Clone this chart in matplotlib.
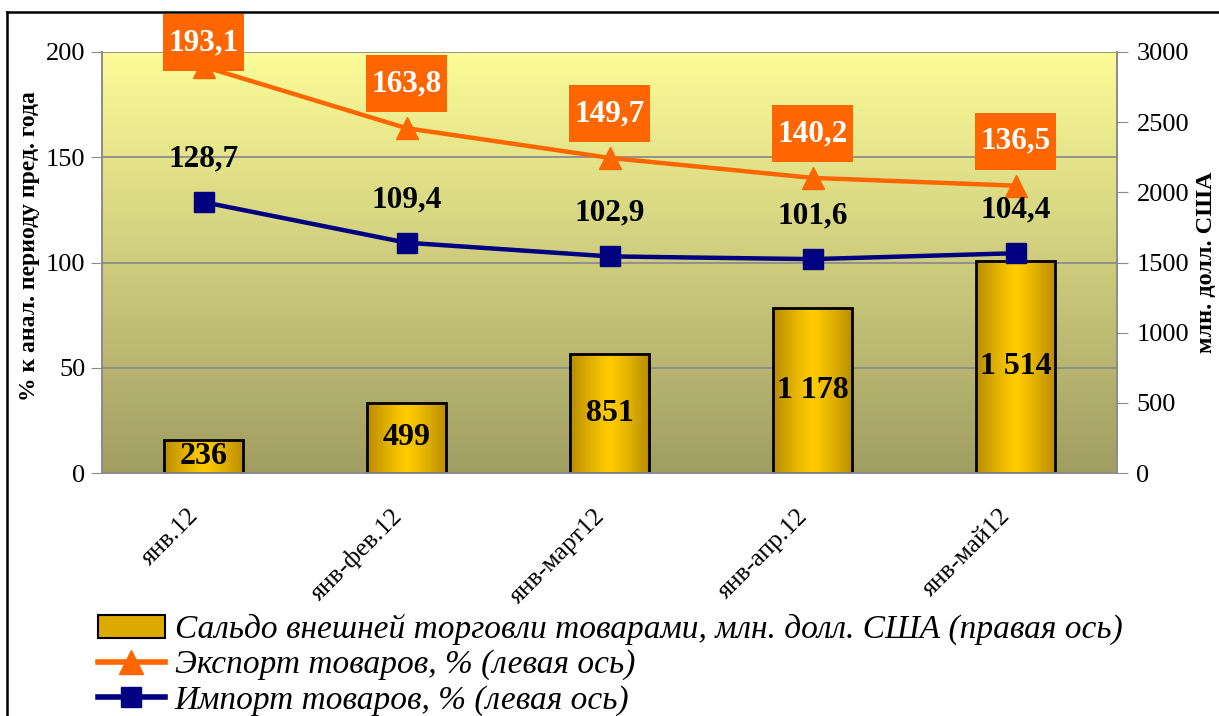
import matplotlib.pyplot as plt
import matplotlib.transforms as mtransforms
from matplotlib.lines import Line2D
from matplotlib.patches import Patch
from matplotlib.path import Path
import numpy as np

categories = ["янв.12", "янв-фев.12", "янв-март12", "янв-апр.12", "янв-май12"]
balance = [236, 499, 851, 1178, 1514]
balance_labels = ["236", "499", "851", "1 178", "1 514"]
export = [193.1, 163.8, 149.7, 140.2, 136.5]
imports = [128.7, 109.4, 102.9, 101.6, 104.4]

# label offsets above points (points); the first export label is pushed down to stay in the chart
export_offsets = [17, 32, 32, 32, 32]
import_offsets = [31, 31, 31, 31, 31]


def fmt(v):
    return f"{v:.1f}".replace(".", ",")


def label_box(x0, y0, width, height, mutation_size):
    # rectangle with small side padding and tall top/bottom padding
    px = 0.18 * mutation_size
    py = 0.45 * mutation_size
    verts = [(x0 - px, y0 - py), (x0 + width + px, y0 - py),
             (x0 + width + px, y0 + height + py), (x0 - px, y0 + height + py),
             (x0 - px, y0 - py)]
    return Path(verts, closed=True)


plt.rcParams['font.family'] = ['Liberation Serif', 'DejaVu Serif']

fig = plt.figure(figsize=(12.19, 7.16), dpi=100)
ax = fig.add_axes([102 / 1219, 1 - 473 / 716, 1015 / 1219, 421 / 716])
ax2 = ax.twinx()

x = np.arange(len(categories)) + 0.5
ax.set_xlim(0, len(categories))
ax.set_ylim(0, 3000)
ax2.set_ylim(0, 200)

# background gradient, light yellow at top to olive at bottom
grad = np.linspace(0, 1, 256).reshape(-1, 1)
top_c = np.array([252, 252, 152]) / 255
bot_c = np.array([160, 157, 98]) / 255
bg = (bot_c + (top_c - bot_c) * grad)[:, None, :].repeat(2, axis=1)
ax.imshow(bg, extent=[0, len(categories), 0, 3000], origin="lower",
          aspect="auto", zorder=0)

# gridlines belong to the left (percent) axis
for g in [50, 100, 150, 200]:
    ax.axhline(g * 15, color="#8c8c8c", lw=1.3, zorder=1)

# bars with a horizontal gold gradient
bw = 0.39
h = np.abs(np.linspace(-1, 1, 64))
edge_c = np.array([184, 140, 0]) / 255
mid_c = np.array([255, 204, 0]) / 255
bar_img = (mid_c + (edge_c - mid_c) * h[:, None] ** 1.2)[None, :, :]
for xi, v, lab in zip(x, balance, balance_labels):
    ax.imshow(bar_img, extent=[xi - bw / 2, xi + bw / 2, 0, v], origin="lower",
              aspect="auto", zorder=2)
    ax.bar(xi, v, width=bw, facecolor="none", edgecolor="black", lw=2, zorder=3)
    ax.text(xi, v / 2, lab, ha="center", va="center", fontsize=23,
            fontweight="bold", zorder=4, clip_on=True)

ax.set_xlim(0, len(categories))
ax.set_ylim(0, 3000)

# lines on the left axis
ax2.plot(x, export, color="#FF6600", lw=3.2, marker="^", markersize=16,
         zorder=5, clip_on=False)
ax2.plot(x, imports, color="#000080", lw=3.2, marker="s", markersize=14,
         zorder=5, clip_on=False)

for xi, v, off in zip(x, export, export_offsets):
    ax2.annotate(fmt(v), (xi, v), xytext=(0, off), textcoords="offset points",
                 ha="center", va="center", color="white", fontsize=22.5,
                 fontweight="bold", zorder=6,
                 bbox=dict(boxstyle=label_box, fc="#FF6600", ec="none"))
for xi, v, off in zip(x, imports, import_offsets):
    ax2.annotate(fmt(v), (xi, v), xytext=(0, off), textcoords="offset points",
                 ha="center", va="center", color="black", fontsize=22.5,
                 fontweight="bold", zorder=6)

# axes styling: bars axis on the right, percent axis on the left
ax.yaxis.tick_right()
ax.yaxis.set_label_position("right")
ax2.yaxis.tick_left()
ax2.yaxis.set_label_position("left")

ax.set_yticks([0, 500, 1000, 1500, 2000, 2500, 3000])
ax2.set_yticks([0, 50, 100, 150, 200])
ax.tick_params(axis="y", labelsize=19, length=8, color="#8c8c8c", pad=6)
ax2.tick_params(axis="y", labelsize=19, length=8, color="#8c8c8c", pad=4)

ax.set_xticks(x)
ax.set_xticklabels(categories, rotation=45, ha="right", rotation_mode="anchor",
                   fontsize=18.5)
ax.tick_params(axis="x", length=0, pad=23)
shift = mtransforms.ScaledTranslation(-16 / 100, 0, fig.dpi_scale_trans)
for t in ax.get_xticklabels():
    t.set_transform(t.get_transform() + shift)

for a in (ax, ax2):
    for s in a.spines.values():
        s.set_color("#8c8c8c")
        s.set_linewidth(1.3)
    a.spines["top"].set_visible(False)

ax2.set_ylabel("% к анал. периоду пред. года", fontsize=17, fontweight="bold")
ax2.yaxis.set_label_coords(-0.061, 0.54)
ax.set_ylabel("млн. долл. США", fontsize=17.5, fontweight="bold", labelpad=5)

# outer chart frame (left and top edges visible)
fig.add_artist(Line2D([7 / 1219, 7 / 1219], [0, 1 - 12 / 716], color="black",
                      lw=1.8, transform=fig.transFigure))
fig.add_artist(Line2D([7 / 1219, 1], [1 - 12 / 716, 1 - 12 / 716],
                      color="black", lw=1.8, transform=fig.transFigure))

handles = [
    Patch(facecolor="#DDAA00", edgecolor="black", lw=1.5),
    Line2D([], [], color="#FF6600", lw=4, marker="^", markersize=17),
    Line2D([], [], color="#000080", lw=4, marker="s", markersize=15),
]
labels = [
    "Сальдо внешней торговли товарами, млн. долл. США (правая ось)",
    "Экспорт товаров, % (левая ось)",
    "Импорт товаров, % (левая ось)",
]
fig.legend(handles, labels, loc="upper left",
           bbox_to_anchor=(98 / 1219, 1 - 614 / 716), frameon=False,
           prop={"style": "italic", "size": 24}, handlelength=2.0,
           handletextpad=0.3, labelspacing=0.13, borderaxespad=0, borderpad=0)

fig.savefig("out.png", dpi=100)
